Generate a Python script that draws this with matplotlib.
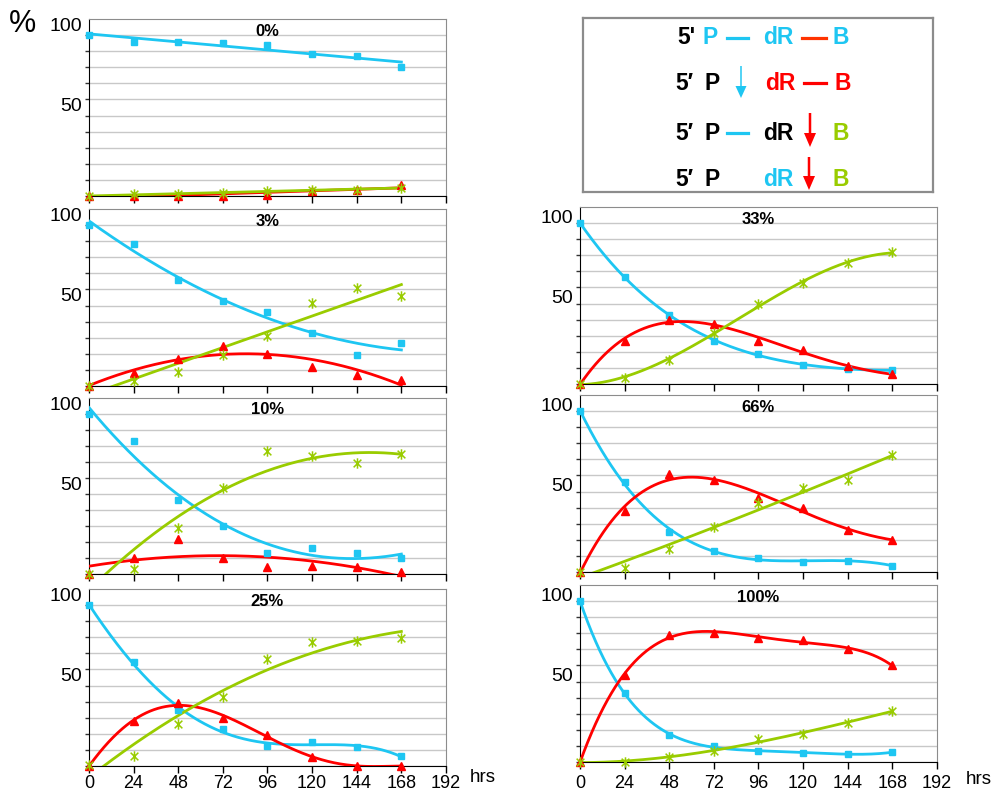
import matplotlib.pyplot as plt
import matplotlib.transforms as mtransforms
import numpy as np
from matplotlib.path import Path

plt.rcParams['font.family'] = ['Liberation Sans', 'DejaVu Sans']

W, H = 995, 792

BLUE = '#1EC6F2'
RED = '#FF0000'
GREEN = '#99CC00'

hours = [0, 24, 48, 72, 96, 120, 144, 168]

# percent of each species per time point (blue = intact, red = dR-B, green = free B)
p0_blue = [100, 96, 96, 95, 94, 88, 87, 80]
p0_red = [0, 0, 0, 0, 0.5, 3, 4, 7]
p0_green = [0, 1, 1, 2, 3, 4, 4, 5]

p3_blue = [100, 88, 66, 53, 46, 33, 19, 27]
p3_red = [0, 8, 17, 25, 20, 12, 7, 4]
p3_green = [0, 3, 9, 19, 31, 51.5, 61, 56]

p10_blue = [100, 83, 46, 30, 13, 16, 13, 10]
p10_red = [0, 10, 22, 10, 4.6, 4.8, 4.2, 1.2]
p10_green = [0, 3, 28.5, 54, 77, 74, 69.6, 75]

p25_blue = [100, 64.6, 34.5, 23, 12.5, 15, 11.5, 6]
p25_red = [0, 28, 39, 30, 19, 5.6, 0, 0]
p25_green = [0.6, 6, 26, 43, 66.5, 77, 77.6, 79.7]

p33_blue = [100, 66.7, 42.6, 26.8, 18.9, 11.6, 9.4, 8.5]
p33_red = [0, 27, 40, 37, 27, 21, 11, 6]
p33_green = [0, 4, 15, 32, 49.5, 63, 75, 82]

p66_blue = [100, 56, 25, 13, 9, 6, 7, 4]
p66_red = [0, 38, 61, 57, 46, 40, 26, 20]
p66_green = [0, 2.5, 14, 28, 43, 52, 57, 73]

p100_blue = [100, 43, 16.5, 10, 7, 5.4, 5.2, 6]
p100_red = [0, 54, 79, 80, 77, 76, 70, 60]
p100_green = [0, 0, 3, 7, 14, 17.5, 24, 32]

# polynomial trendline order for (blue, red, green)
p0_orders = (1, 1, 1)
p3_orders = (2, 2, 1)
p10_orders = (3, 2, 2)
p25_orders = (4, 5, 2)
p33_orders = (4, 4, 3)
p66_orders = (4, 4, 2)
p100_orders = (5, 5, 3)

xticks = [0, 24, 48, 72, 96, 120, 144, 168, 192]

# x-plus-vertical asterisk marker
star = Path([(-1, -1), (1, 1), (-1, 1), (1, -1), (0, -1.35), (0, 1.35)],
            [Path.MOVETO, Path.LINETO] * 3)


def px_axes(fig, left, top, right, bottom):
    return fig.add_axes([left / W, 1 - bottom / H,
                         (right - left) / W, (bottom - top) / H])


def draw_panel(fig, ax, title, blue, red, green, orders, bottom_row, label_dy, xpad):
    xs = np.linspace(0, 168, 400)
    for vals, color, order in zip((blue, red, green), (BLUE, RED, GREEN), orders):
        coef = np.polyfit(hours, vals, order)
        ax.plot(xs, np.polyval(coef, xs), color=color, lw=2.0, zorder=3)

    ax.plot(hours, blue, ls='none', marker='s', ms=4.5, color=BLUE,
            clip_on=False, zorder=4)
    ax.plot(hours, red, ls='none', marker='^', ms=5.5, color=RED,
            clip_on=False, zorder=4)
    ax.plot(hours, green, ls='none', marker=star, ms=7.5, mfc='none',
            mec=GREEN, mew=1.1, clip_on=False, zorder=4)

    ax.set_xlim(0, 192)
    ax.set_ylim(0, 110)
    ax.set_xticks(xticks)
    ax.set_yticks(range(0, 101, 10))
    ax.set_yticklabels([])
    ax.yaxis.grid(True, color='#C8C8C8', lw=1)
    ax.set_axisbelow(True)
    ax.tick_params(axis='y', direction='out', length=3, width=1, color='#333333')
    ax.tick_params(axis='x', direction='out', length=5, width=1,
                   labelsize=13, pad=xpad, labelbottom=bottom_row)
    for side in ('top', 'right'):
        ax.spines[side].set_color('#8C8C8C')
    for side in ('left', 'bottom'):
        ax.spines[side].set_color('black')

    trans = mtransforms.offset_copy(ax.get_yaxis_transform(), fig=fig,
                                    x=-7, y=label_dy, units='dots')
    for v in (100, 50):
        ax.text(0, v, str(v), transform=trans, ha='right', va='center',
                fontsize=14)

    ax.text(0.5, 1 - 12 / 177, title, transform=ax.transAxes, ha='center',
            va='center', fontsize=12, fontweight='bold')


def legend_box(fig):
    ax = px_axes(fig, 583, 18, 933, 192)
    ax.set_xlim(0, 350)
    ax.set_ylim(174, 0)
    ax.set_xticks([])
    ax.set_yticks([])
    for s in ax.spines.values():
        s.set_color('#8C8C8C')
        s.set_linewidth(1.6)

    fs = 16.5
    kw = dict(fontsize=fs, fontweight='bold', va='center', ha='left')

    # row 1: intact
    y = 20
    ax.text(94, y, "5'", color='black', **kw)
    ax.text(120, y, 'P', color=BLUE, **kw)
    ax.plot([144, 165], [y, y], color=BLUE, lw=2.3)
    ax.text(180, y, 'dR', color=BLUE, **kw)
    ax.plot([219, 243], [y, y], color='#FF3300', lw=2.3)
    ax.text(250, y, 'B', color=BLUE, **kw)

    # row 2: phosphate cleaved
    y = 65
    ax.text(92, y, '5\u2032', color='black', **kw)
    ax.text(122, y, 'P', color='black', **kw)
    ax.arrow(158, 48, 0, 32, width=1.5, head_width=11, head_length=12,
             length_includes_head=True, color=BLUE, lw=0)
    ax.text(182, y, 'dR', color=RED, **kw)
    ax.plot([221, 243], [y, y], color=RED, lw=2.3)
    ax.text(252, y, 'B', color=RED, **kw)

    # row 3: base released
    y = 115
    ax.text(92, y, '5\u2032', color='black', **kw)
    ax.text(122, y, 'P', color='black', **kw)
    ax.plot([144, 165], [y, y], color=BLUE, lw=2.3)
    ax.text(180, y, 'dR', color='black', **kw)
    ax.arrow(227, 95, 0, 34, width=2.5, head_width=12, head_length=14,
             length_includes_head=True, color=RED, lw=0)
    ax.text(250, y, 'B', color=GREEN, **kw)

    # row 4: both cleaved
    y = 162
    ax.text(92, y, '5\u2032', color='black', **kw)
    ax.text(122, y, 'P', color='black', **kw)
    ax.text(180, y, 'dR', color=BLUE, **kw)
    ax.arrow(226, 139, 0, 33, width=2.5, head_width=12, head_length=14,
             length_includes_head=True, color=RED, lw=0)
    ax.text(250, y, 'B', color=GREEN, **kw)


def main():
    fig = plt.figure(figsize=(W / 100, H / 100), dpi=100)

    left = [
        ((19, 196), '0%', p0_blue, p0_red, p0_green, p0_orders),
        ((209, 386), '3%', p3_blue, p3_red, p3_green, p3_orders),
        ((398, 574), '10%', p10_blue, p10_red, p10_green, p10_orders),
        ((589, 766), '25%', p25_blue, p25_red, p25_green, p25_orders),
    ]
    for i, ((top, bot), title, b, r, g, orders) in enumerate(left):
        ax = px_axes(fig, 89, top, 446, bot)
        draw_panel(fig, ax, title, b, r, g, orders, i == 3, 9, 1.5)

    right = [
        ((207, 384), '33%', p33_blue, p33_red, p33_green, p33_orders),
        ((395, 572), '66%', p66_blue, p66_red, p66_green, p66_orders),
        ((585, 762), '100%', p100_blue, p100_red, p100_green, p100_orders),
    ]
    for i, ((top, bot), title, b, r, g, orders) in enumerate(right):
        ax = px_axes(fig, 580, top, 937, bot)
        draw_panel(fig, ax, title, b, r, g, orders, i == 2, 5, 4.5)

    legend_box(fig)

    fig.text(23 / W, 1 - 24 / H, '%', fontsize=22, ha='center', va='center')
    fig.text(470 / W, 1 - 778 / H, 'hrs', fontsize=13.5, ha='left', va='center')
    fig.text(966 / W, 1 - 779 / H, 'hrs', fontsize=13.5, ha='left', va='center')

    fig.savefig('out.png', dpi=100)


if __name__ == '__main__':
    main()
